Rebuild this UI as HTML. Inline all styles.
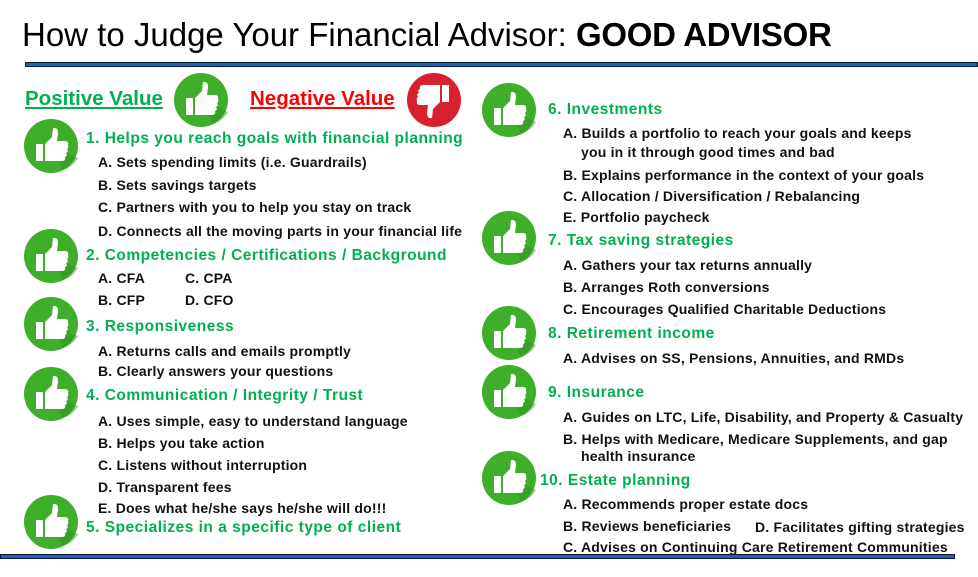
<!DOCTYPE html>
<html><head><meta charset="utf-8"><style>
body{margin:0;width:978px;height:577px;background:#fff;position:relative;overflow:hidden;font-family:"Liberation Sans",Arial,sans-serif}
.t{position:absolute;white-space:nowrap;line-height:1}
.h{color:#00b050;font-weight:bold;font-size:15.5px;letter-spacing:0.5px}
.i{color:#111;font-weight:bold;font-size:14px;letter-spacing:0.2px}
.ic{position:absolute;width:56px;height:56px}
.line{position:absolute;height:3px;background:#1f5fbf;border:1px solid #0a1a33}
</style></head><body>
<svg width="0" height="0" style="position:absolute"><defs>
<symbol id="up" viewBox="0 0 56 56"><circle cx="28" cy="28" r="27" fill="#3fae2a"/><path d="M28 28 L55 40 A27 27 0 0 1 40 52 Z" fill="#2f9420" opacity=".5"/><rect x="13" y="26" width="7" height="17" fill="#fff"/><path d="M22 26 L29 19 L30 10 Q35 9 35 15 L34 23 L43 23 Q46 24 45 27 Q46 30 44 31 Q46 34 43 35 Q45 38 42 39 Q43 43 39 43 L22 43 Z" fill="#fff"/></symbol>
<symbol id="down" viewBox="0 0 56 56"><circle cx="28" cy="28" r="27" fill="#d8202f"/><rect x="36" y="13" width="7" height="17" fill="#fff"/><path d="M34 30 L27 37 L26 46 Q21 47 21 41 L22 33 L13 33 Q10 32 11 29 Q10 26 12 25 Q10 22 13 21 Q11 18 14 17 Q13 13 17 13 L34 13 Z" fill="#fff"/></symbol>
</defs></svg>

<div class="t" style="left:22px;top:18px;font-size:33px;color:#000">How to Judge Your Financial Advisor: <b style="letter-spacing:-0.3px">GOOD ADVISOR</b></div>
<div class="line" style="left:25px;top:62px;width:951px"></div>
<div class="line" style="left:0;top:554px;width:953px"></div>

<div class="t" style="left:25px;top:89px;font-size:20.5px;font-weight:bold;color:#00b050;text-decoration:underline">Positive Value</div>
<svg class="ic" style="left:173px;top:72px"><use href="#up"/></svg>
<div class="t" style="left:250px;top:89px;font-size:20.5px;font-weight:bold;color:#ff0000;text-decoration:underline">Negative Value</div>
<svg class="ic" style="left:406px;top:72px"><use href="#down"/></svg>

<svg class="ic" style="left:23px;top:118px"><use href="#up"/></svg>
<svg class="ic" style="left:23px;top:228px"><use href="#up"/></svg>
<svg class="ic" style="left:23px;top:296px"><use href="#up"/></svg>
<svg class="ic" style="left:23px;top:366px"><use href="#up"/></svg>
<svg class="ic" style="left:23px;top:494px"><use href="#up"/></svg>
<svg class="ic" style="left:481px;top:82px"><use href="#up"/></svg>
<svg class="ic" style="left:481px;top:210px"><use href="#up"/></svg>
<svg class="ic" style="left:481px;top:305px"><use href="#up"/></svg>
<svg class="ic" style="left:481px;top:364px"><use href="#up"/></svg>
<svg class="ic" style="left:481px;top:450px"><use href="#up"/></svg>

<div class="t h" style="left:86px;top:131px">1. Helps you reach goals with financial planning</div>
<div class="t i" style="left:98px;top:155px">A. Sets spending limits (i.e. Guardrails)</div>
<div class="t i" style="left:98px;top:178px">B. Sets savings targets</div>
<div class="t i" style="left:98px;top:200px">C. Partners with you to help you stay on track</div>
<div class="t i" style="left:98px;top:224px">D. Connects all the moving parts in your financial life</div>
<div class="t h" style="left:86px;top:248px">2. Competencies / Certifications / Background</div>
<div class="t i" style="left:98px;top:271px">A. CFA</div>
<div class="t i" style="left:185px;top:271px">C. CPA</div>
<div class="t i" style="left:98px;top:293px">B. CFP</div>
<div class="t i" style="left:185px;top:293px">D. CFO</div>
<div class="t h" style="left:86px;top:319px">3. Responsiveness</div>
<div class="t i" style="left:98px;top:344px">A. Returns calls and emails promptly</div>
<div class="t i" style="left:98px;top:364px">B. Clearly answers your questions</div>
<div class="t h" style="left:86px;top:388px">4. Communication / Integrity / Trust</div>
<div class="t i" style="left:98px;top:414px">A. Uses simple, easy to understand language</div>
<div class="t i" style="left:98px;top:436px">B. Helps you take action</div>
<div class="t i" style="left:98px;top:458px">C. Listens without interruption</div>
<div class="t i" style="left:98px;top:480px">D. Transparent fees</div>
<div class="t i" style="left:98px;top:501px">E. Does what he/she says he/she will do!!!</div>
<div class="t h" style="left:86px;top:520px">5. Specializes in a specific type of client</div>

<div class="t h" style="left:548px;top:102px">6. Investments</div>
<div class="t i" style="left:563px;top:126px">A. Builds a portfolio to reach your goals and keeps</div>
<div class="t i" style="left:581px;top:145px">you in it through good times and bad</div>
<div class="t i" style="left:563px;top:168px">B. Explains performance in the context of your goals</div>
<div class="t i" style="left:563px;top:189px">C. Allocation / Diversification / Rebalancing</div>
<div class="t i" style="left:563px;top:210px">E. Portfolio paycheck</div>
<div class="t h" style="left:548px;top:233px">7. Tax saving strategies</div>
<div class="t i" style="left:563px;top:258px">A. Gathers your tax returns annually</div>
<div class="t i" style="left:563px;top:280px">B. Arranges Roth conversions</div>
<div class="t i" style="left:563px;top:302px">C. Encourages Qualified Charitable Deductions</div>
<div class="t h" style="left:548px;top:326px">8. Retirement income</div>
<div class="t i" style="left:563px;top:351px">A. Advises on SS, Pensions, Annuities, and RMDs</div>
<div class="t h" style="left:548px;top:385px">9. Insurance</div>
<div class="t i" style="left:563px;top:410px">A. Guides on LTC, Life, Disability, and Property &amp; Casualty</div>
<div class="t i" style="left:563px;top:432px">B. Helps with Medicare, Medicare Supplements, and gap</div>
<div class="t i" style="left:581px;top:449px">health insurance</div>
<div class="t h" style="left:540px;top:473px">10. Estate planning</div>
<div class="t i" style="left:563px;top:497px">A. Recommends proper estate docs</div>
<div class="t i" style="left:563px;top:519px">B. Reviews beneficiaries</div>
<div class="t i" style="left:755px;top:520px">D. Facilitates gifting strategies</div>
<div class="t i" style="left:563px;top:540px">C. Advises on Continuing Care Retirement Communities</div>
</body></html>
